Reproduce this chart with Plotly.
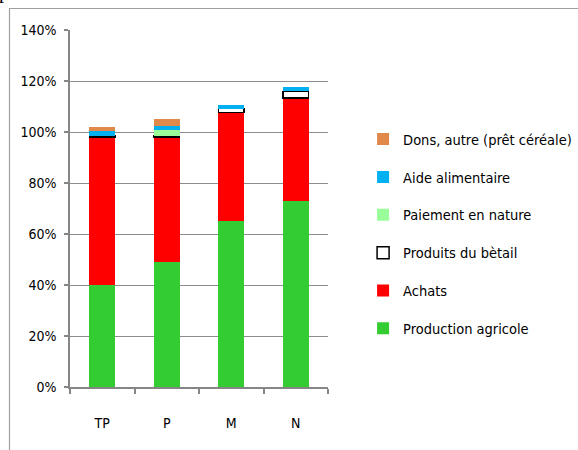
import plotly.graph_objects as go

categories = ["TP", "P", "M", "N"]
production_agricole = [0.40, 0.49, 0.65, 0.73]
achats = [0.58, 0.49, 0.427, 0.403]
produits_betail = [0.005, 0.005, 0.015, 0.026]
paiement_nature = [0.0, 0.023, 0.0, 0.0]
aide_alimentaire = [0.02, 0.017, 0.014, 0.016]
dons_autre = [0.015, 0.025, 0.0, 0.0]

series = [
    ("Production agricole", production_agricole, "#33CC33", None),
    ("Achats", achats, "#FF0000", None),
    ("Produits du bètail", produits_betail, "#FFFFFF", "#000000"),
    ("Paiement en nature", paiement_nature, "#99FF99", None),
    ("Aide alimentaire", aide_alimentaire, "#00B0F0", None),
    ("Dons, autre (prêt céréale)", dons_autre, "#E0894A", None),
]

FONT = "DejaVu Sans Condensed, Liberation Sans Narrow, Arial Narrow, sans-serif"

fig = go.Figure()
n = len(series)
for i, (name, vals, col, line) in enumerate(series):
    fig.add_trace(go.Bar(
        x=categories, y=vals, name=name, legendgroup=str(i), legendrank=n - i,
        marker=dict(color=col,
                    line=dict(color=line if line else col, width=1.5 if line else 0)),
    ))

fig.update_layout(
    width=578, height=450,
    barmode="stack", bargap=0.6,
    paper_bgcolor="white", plot_bgcolor="white",
    margin=dict(l=70, r=250, t=30, b=63, autoexpand=False),
    font=dict(family=FONT, size=14, color="#000000"),
    showlegend=True,
    legend=dict(
        x=1.136, xanchor="left", y=0.739, yanchor="top",
        traceorder="grouped", tracegroupgap=16,
        font=dict(family=FONT, size=14.5, color="#000000"),
        itemwidth=30,
    ),
    xaxis=dict(
        showline=True, linecolor="#868686", linewidth=1.5,
        ticks="outside", tickson="boundaries", ticklen=5, tickcolor="#868686",
        tickwidth=1.5, ticklabelstandoff=22, showgrid=False,
        tickfont=dict(family=FONT, size=14),
    ),
    yaxis=dict(
        range=[0, 1.4], dtick=0.2, tickformat=".0%",
        showline=True, linecolor="#868686", linewidth=1.5,
        ticks="outside", ticklen=4, tickcolor="#868686", tickwidth=1.5,
        showgrid=True, gridcolor="#8C8C8C", gridwidth=1, zeroline=False,
        ticklabelstandoff=5,
        tickfont=dict(family=FONT, size=14),
    ),
    shapes=[dict(
        type="rect", xref="paper", yref="paper",
        x0=(9.5 - 70) / 258, x1=3.0, y0=-0.5, y1=(387 - 8.5) / 357,
        line=dict(color="#A0A0A0", width=1.2), fillcolor="rgba(0,0,0,0)",
        layer="below",
    )],
    annotations=[dict(
        text="p", xref="paper", yref="paper",
        x=(4 - 70) / 258, y=(387 - 5) / 357, xanchor="center", yanchor="bottom",
        showarrow=False, font=dict(family="Liberation Serif", size=20, color="#000000"),
    )],
)

fig.write_html("out.html")
